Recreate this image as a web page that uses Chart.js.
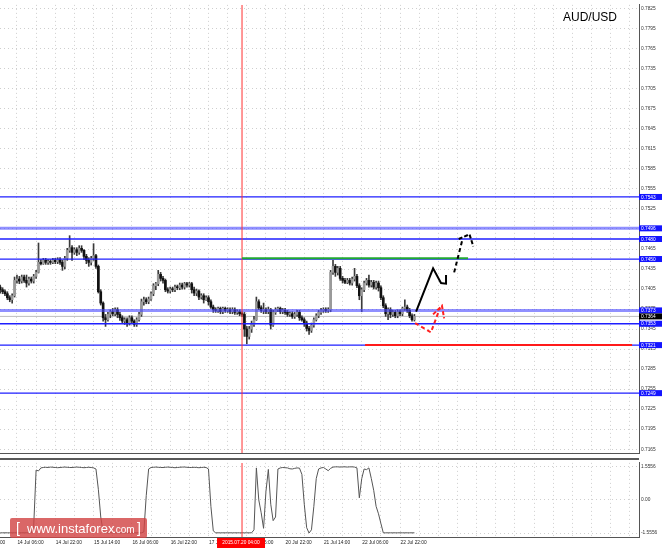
<!DOCTYPE html>
<html>
<head>
<meta charset="utf-8">
<script src="https://cdn.jsdelivr.net/npm/chart.js@4.4.1/dist/chart.umd.min.js"></script>
<style>
  html, body { margin: 0; padding: 0; background: #fff; }
  #wrap { position: relative; width: 664px; height: 549px; overflow: hidden; }
  #main { position: absolute; left: 0; top: 0; }
  #osc { position: absolute; left: 0; top: 458px; }
</style>
</head>
<body>
<div id="wrap">
  <canvas id="main" width="664" height="458"></canvas>
  <canvas id="osc" width="664" height="91"></canvas>
</div>
<script>
// AUD/USD H1, bar 0 = 13 Jul 23:00
const open = [
  0.7408,0.7404,0.7401,0.7398,0.7392,0.7389,0.7395,0.7418,0.7420,0.7417,
  0.7423,0.7418,0.7414,0.7420,0.7417,0.7424,0.7430,0.7445,0.7443,0.7448,
  0.7445,0.7446,0.7445,0.7448,0.7446,0.7449,0.7445,0.7439,0.7451,0.7463,
  0.7467,0.7460,0.7464,0.7460,0.7466,0.7463,0.7454,0.7448,0.7445,0.7451,
  0.7455,0.7439,0.7401,0.7384,0.7362,0.7359,0.7367,0.7371,0.7368,0.7374,
  0.7367,0.7362,0.7357,0.7359,0.7354,0.7362,0.7357,0.7352,0.7359,0.7367,
  0.7386,0.7389,0.7386,0.7390,0.7398,0.7410,0.7413,0.7427,0.7421,0.7418,
  0.7404,0.7402,0.7405,0.7404,0.7408,0.7407,0.7411,0.7408,0.7413,0.7411,
  0.7413,0.7404,0.7399,0.7402,0.7393,0.7395,0.7389,0.7392,0.7386,0.7378,
  0.7374,0.7373,0.7376,0.7371,0.7376,0.7373,0.7374,0.7371,0.7374,0.7370,
  0.7371,0.7368,0.7367,0.7345,0.7334,0.7345,0.7352,0.7359,0.7386,0.7377,
  0.7373,0.7374,0.7371,0.7374,0.7351,0.7370,0.7374,0.7376,0.7371,0.7373,
  0.7370,0.7367,0.7368,0.7364,0.7367,0.7370,0.7362,0.7359,0.7354,0.7346,
  0.7343,0.7351,0.7359,0.7365,0.7370,0.7373,0.7374,0.7373,0.7374,0.7430,
  0.7439,0.7430,0.7436,0.7421,0.7418,0.7415,0.7418,0.7414,0.7420,0.7424,
  0.7410,0.7395,0.7404,0.7414,0.7418,0.7411,0.7415,0.7408,0.7414,0.7407,
  0.7392,0.7380,0.7368,0.7374,0.7367,0.7370,0.7365,0.7371,0.7368,0.7376,
  0.7378,0.7373,0.7365,0.7359
];
const high = [
  0.7411,0.7407,0.7404,0.7401,0.7395,0.7398,0.7423,0.7426,0.7424,0.7426,
  0.7426,0.7426,0.7423,0.7423,0.7427,0.7433,0.7474,0.7449,0.7451,0.7451,
  0.7449,0.7449,0.7451,0.7451,0.7452,0.7452,0.7448,0.7454,0.7466,0.7485,
  0.7470,0.7467,0.7467,0.7470,0.7470,0.7464,0.7457,0.7452,0.7454,0.7473,
  0.7457,0.7441,0.7404,0.7386,0.7367,0.7370,0.7374,0.7376,0.7377,0.7377,
  0.7370,0.7365,0.7362,0.7362,0.7365,0.7365,0.7359,0.7362,0.7370,0.7390,
  0.7393,0.7392,0.7393,0.7401,0.7413,0.7415,0.7433,0.7430,0.7424,0.7420,
  0.7407,0.7408,0.7408,0.7411,0.7411,0.7414,0.7414,0.7415,0.7415,0.7415,
  0.7415,0.7408,0.7405,0.7404,0.7398,0.7398,0.7395,0.7395,0.7389,0.7381,
  0.7377,0.7378,0.7378,0.7378,0.7378,0.7377,0.7377,0.7377,0.7377,0.7374,
  0.7374,0.7371,0.7370,0.7349,0.7349,0.7357,0.7364,0.7393,0.7389,0.7380,
  0.7384,0.7377,0.7378,0.7376,0.7373,0.7377,0.7378,0.7378,0.7376,0.7376,
  0.7373,0.7371,0.7371,0.7370,0.7373,0.7373,0.7365,0.7362,0.7357,0.7349,
  0.7354,0.7362,0.7368,0.7373,0.7376,0.7377,0.7377,0.7377,0.7433,0.7448,
  0.7442,0.7439,0.7439,0.7424,0.7421,0.7421,0.7421,0.7423,0.7436,0.7427,
  0.7413,0.7407,0.7417,0.7421,0.7426,0.7418,0.7418,0.7417,0.7417,0.7410,
  0.7395,0.7383,0.7377,0.7377,0.7373,0.7373,0.7374,0.7374,0.7378,0.7389,
  0.7381,0.7376,0.7368,0.7367
];
const low = [
  0.7399,0.7398,0.7395,0.7389,0.7386,0.7384,0.7393,0.7414,0.7413,0.7414,
  0.7415,0.7408,0.7411,0.7414,0.7414,0.7421,0.7429,0.7441,0.7442,0.7442,
  0.7442,0.7442,0.7443,0.7443,0.7443,0.7442,0.7433,0.7435,0.7448,0.7460,
  0.7448,0.7457,0.7455,0.7457,0.7460,0.7449,0.7443,0.7439,0.7441,0.7448,
  0.7436,0.7399,0.7381,0.7357,0.7349,0.7357,0.7362,0.7365,0.7365,0.7362,
  0.7358,0.7354,0.7352,0.7349,0.7351,0.7354,0.7349,0.7349,0.7357,0.7364,
  0.7381,0.7383,0.7383,0.7388,0.7395,0.7404,0.7410,0.7417,0.7414,0.7401,
  0.7399,0.7399,0.7401,0.7401,0.7404,0.7404,0.7405,0.7405,0.7408,0.7408,
  0.7399,0.7395,0.7395,0.7389,0.7390,0.7384,0.7388,0.7381,0.7376,0.7370,
  0.7370,0.7370,0.7368,0.7368,0.7370,0.7370,0.7368,0.7368,0.7367,0.7367,
  0.7365,0.7364,0.7334,0.7323,0.7330,0.7340,0.7349,0.7358,0.7374,0.7370,
  0.7368,0.7368,0.7368,0.7345,0.7349,0.7367,0.7371,0.7368,0.7368,0.7367,
  0.7364,0.7364,0.7361,0.7361,0.7364,0.7358,0.7357,0.7349,0.7342,0.7337,
  0.7340,0.7348,0.7357,0.7362,0.7367,0.7370,0.7370,0.7370,0.7371,0.7427,
  0.7424,0.7426,0.7418,0.7414,0.7413,0.7413,0.7411,0.7411,0.7417,0.7407,
  0.7389,0.7371,0.7401,0.7411,0.7408,0.7408,0.7405,0.7405,0.7402,0.7389,
  0.7377,0.7364,0.7359,0.7362,0.7364,0.7362,0.7362,0.7365,0.7365,0.7373,
  0.7370,0.7362,0.7357,0.7357
];
const close = [
  0.7404,0.7401,0.7398,0.7392,0.7389,0.7395,0.7418,0.7420,0.7417,0.7423,
  0.7418,0.7414,0.7420,0.7417,0.7424,0.7430,0.7445,0.7443,0.7448,0.7445,
  0.7446,0.7445,0.7448,0.7446,0.7449,0.7445,0.7439,0.7451,0.7463,0.7467,
  0.7460,0.7464,0.7460,0.7466,0.7463,0.7454,0.7448,0.7445,0.7451,0.7455,
  0.7439,0.7401,0.7384,0.7362,0.7359,0.7367,0.7371,0.7368,0.7374,0.7367,
  0.7362,0.7357,0.7359,0.7354,0.7362,0.7357,0.7352,0.7359,0.7367,0.7386,
  0.7389,0.7386,0.7390,0.7398,0.7410,0.7413,0.7427,0.7421,0.7418,0.7404,
  0.7402,0.7405,0.7404,0.7408,0.7407,0.7411,0.7408,0.7413,0.7411,0.7413,
  0.7404,0.7399,0.7402,0.7393,0.7395,0.7389,0.7392,0.7386,0.7378,0.7374,
  0.7373,0.7376,0.7371,0.7376,0.7373,0.7374,0.7371,0.7374,0.7370,0.7371,
  0.7368,0.7367,0.7345,0.7334,0.7345,0.7352,0.7359,0.7386,0.7377,0.7373,
  0.7374,0.7371,0.7374,0.7351,0.7370,0.7374,0.7376,0.7371,0.7373,0.7370,
  0.7367,0.7368,0.7364,0.7367,0.7370,0.7362,0.7359,0.7354,0.7346,0.7343,
  0.7351,0.7359,0.7365,0.7370,0.7373,0.7374,0.7373,0.7374,0.7430,0.7439,
  0.7430,0.7436,0.7421,0.7418,0.7415,0.7418,0.7414,0.7420,0.7424,0.7410,
  0.7395,0.7404,0.7414,0.7418,0.7411,0.7415,0.7408,0.7414,0.7407,0.7392,
  0.7380,0.7368,0.7374,0.7367,0.7370,0.7365,0.7371,0.7368,0.7376,0.7378,
  0.7373,0.7365,0.7359,0.7364
];
// oscillator in the lower window
const osc = [
  -1.54,-1.54,-1.54,-1.54,-1.54,-1.54,-1.54,-1.54,-1.54,-1.54,
  -1.54,-1.54,-1.54,-1.54,-1.20,1.40,1.36,1.50,1.52,1.53,
  1.52,1.54,1.53,1.52,1.51,1.52,1.53,1.54,1.53,1.52,
  1.52,1.53,1.54,1.53,1.52,1.51,1.52,1.53,1.52,1.50,
  1.45,0.50,-0.80,-1.50,-1.54,-1.54,-1.54,-1.54,-1.54,-1.54,
  -1.54,-1.54,-1.54,-1.54,-1.54,-1.54,-1.54,-1.54,-1.54,-1.54,
  -1.50,0.20,1.45,1.52,1.53,1.54,1.53,1.52,1.52,1.53,
  1.54,1.53,1.52,1.51,1.52,1.53,1.54,1.54,1.53,1.52,
  1.52,1.53,1.52,1.51,1.52,1.53,1.52,1.45,-0.30,-1.45,
  -1.54,-1.54,-1.54,-1.54,-1.54,-1.54,-1.54,-1.54,-1.54,-1.54,
  -1.54,-1.54,-1.54,-1.54,-1.54,-1.54,-1.40,1.50,0.00,-0.60,
  -1.33,0.40,1.43,-0.20,-0.97,-0.80,1.45,1.50,1.52,1.51,
  1.50,1.46,1.45,1.48,1.50,1.49,1.20,-0.20,-1.30,-1.55,
  -1.40,-0.30,1.00,1.45,1.50,1.52,1.45,1.37,1.48,1.54,
  1.55,1.55,1.54,1.55,1.55,1.54,1.55,1.55,1.54,1.50,
  0.10,1.00,1.45,1.42,1.50,1.00,0.45,-0.30,-0.65,-1.10,
  -1.54,-1.54,-1.54,-1.54,-1.54,-1.54,-1.54,-1.54,-1.54,-1.54,
  -1.54,-1.54,-1.54,-1.54
];

const priceTicks = [0.7165,0.7195,0.7225,0.7255,0.7285,0.7315,0.7345,0.7375,0.7405,0.7435,0.7465,0.7495,
  0.7525,0.7555,0.7585,0.7615,0.7645,0.7675,0.7705,0.7735,0.7765,0.7795,0.7825];
const oscTicks = [-1.5556, 0, 1.5556];
const timeLabels = ['13 Jul 14:00','14 Jul 06:00','14 Jul 22:00','15 Jul 14:00','16 Jul 06:00','16 Jul 22:00',
  '17 Jul 14:00','20 Jul 06:00','20 Jul 22:00','21 Jul 14:00','22 Jul 06:00','22 Jul 22:00'];
const timeLabelBars = [-9, 7, 23, 39, 55, 71, 87, 103, 119, 135, 151, 167];

// horizontal levels drawn on the chart
const levels = [0.7543, 0.7496, 0.7480, 0.7450, 0.7373, 0.7353, 0.7321, 0.7249];
const bidPrice = 0.7364;
const markerBar = 101;           // 2015.07.20 04:00
const markerText = '2015.07.20 04:00';
const greenBars = [101, 195.4], greenPrices = [0.7451, 0.7451];
const redBars = [152.4, 263.9], redPrices = [0.7321, 0.7321];

// forecast arrows (bar index, price)
const upBars = [173.7, 180.8, 184.1], upPrices = [0.7371, 0.7436, 0.7414];
const upHeadBars = [183.8, 186.2, 186.2], upHeadPrices = [0.7414, 0.7413, 0.7426];
const dashBars = [189.6, 192.9], dashPrices = [0.7430, 0.7477];
const dashHeadBars = [191.5, 196.0, 197.6], dashHeadPrices = [0.7480, 0.7487, 0.7469];
const altBars = [173.3, 179.9, 183.7], altPrices = [0.7354, 0.7340, 0.7377];
const altHeadBars = [180.8, 184.5, 185.4], altHeadPrices = [0.7367, 0.7380, 0.7361];

const X_MIN = -0.08, X_MAX = 266.8;
const FONT = 'Liberation Sans, Arial, sans-serif';
Chart.defaults.font.family = FONT;

const gridBars = [];
for (let b = 7; b < X_MAX; b += 8) gridBars.push(b);

const pts = (xs, ys) => xs.map((x, i) => ({x, y: ys[i]}));
const seg = (data, color, width, dash, order) => ({
  type: 'line', data, borderColor: color, borderWidth: width, borderDash: dash || [],
  pointRadius: 0, tension: 0, fill: false, order
});

const xScale = {
  type: 'linear', min: X_MIN, max: X_MAX, offset: false,
  ticks: { display: false },
  grid: { color: '#cfcfcf', drawTicks: false, offset: false },
  border: { display: true, color: '#555', dash: [1, 3] },
  afterBuildTicks: s => { s.ticks = gridBars.map(v => ({value: v})); },
  afterFit: s => { s.height = 0; }
};

const levelSets = levels.map(l => {
  const thick = (l === 0.7373 || l === 0.7496);
  return seg(pts([X_MIN, X_MAX], [l, l]), thick ? 'rgba(70,70,255,0.6)' : '#1e1eff', thick ? 3 : 1.3, null, 3);
});

const mainDecor = {
  id: 'mainDecor',
  afterDraw(chart) {
    const {ctx, chartArea, scales} = chart;
    const y = scales.y;
    ctx.save();
    ctx.font = '4.8px ' + FONT;
    ctx.textBaseline = 'middle';
    ctx.textAlign = 'left';
    levels.forEach(l => {
      const py = y.getPixelForValue(l);
      ctx.fillStyle = '#1414ff';
      ctx.fillRect(chartArea.right, py - 3, 23, 6);
      ctx.fillStyle = '#fff';
      ctx.fillText(l.toFixed(4), chartArea.right + 2, py + 0.3);
    });
    const by = y.getPixelForValue(bidPrice);
    ctx.fillStyle = '#000';
    ctx.fillRect(chartArea.right, by - 3, 23, 6);
    ctx.fillStyle = '#fff';
    ctx.fillText(bidPrice.toFixed(4), chartArea.right + 2, by + 0.3);

    ctx.font = '12px ' + FONT;
    ctx.fillStyle = '#000';
    ctx.textAlign = 'right';
    ctx.textBaseline = 'alphabetic';
    ctx.fillText('AUD/USD', 617, 21);
    ctx.restore();
  }
};

new Chart(document.getElementById('main'), {
  type: 'bar',
  data: {
    datasets: [
      seg(pts([X_MIN, X_MAX], [bidPrice, bidPrice]), '#bdbdbd', 1, null, 6),
      {
        type: 'bar', grouped: false, order: 5,
        data: high.map((h, i) => ({x: i, y: [low[i], h]})),
        backgroundColor: '#3a3a3a', barThickness: 1
      },
      {
        type: 'bar', grouped: false, order: 4, minBarLength: 1,
        data: close.map((c, i) => ({x: i, y: [open[i], c]})),
        backgroundColor: close.map((c, i) => c >= open[i] ? '#9a9a9a' : '#111'),
        barThickness: 2
      },
      ...levelSets,
      seg(pts(greenBars, greenPrices), '#22a833', 2, null, 2),
      seg(pts(redBars, redPrices), '#ff1a1a', 2, null, 2),
      seg([{x: markerBar, y: 0.70}, {x: markerBar, y: 0.80}], '#ff3030', 1, null, 2),
      seg(pts(upBars, upPrices), '#000', 2, null, 0),
      seg(pts(upHeadBars, upHeadPrices), '#000', 2, null, 0),
      seg(pts(dashBars, dashPrices), '#000', 2, [4, 3], 0),
      seg(pts(dashHeadBars, dashHeadPrices), '#000', 2, [4, 2], 0),
      seg(pts(altBars, altPrices), '#ff2020', 2, [4, 3], 0),
      seg(pts(altHeadBars, altHeadPrices), '#ff2020', 2, [4, 2], 0)
    ]
  },
  options: {
    responsive: false, animation: false, devicePixelRatio: 1,
    layout: { padding: { left: 0, right: 0, top: 0, bottom: 2 } },
    plugins: { legend: { display: false }, tooltip: { enabled: false } },
    scales: {
      x: xScale,
      y: {
        type: 'linear', position: 'right', min: 0.71591, max: 0.78309, beginAtZero: false,
        grid: { color: '#cfcfcf', drawTicks: false },
        border: { display: true, color: '#555', dash: [1, 3] },
        ticks: { autoSkip: false, padding: 2, color: '#333', font: { size: 4.8 },
          callback: v => v.toFixed(4) },
        afterBuildTicks: s => { s.ticks = priceTicks.map(v => ({value: v})); },
        afterFit: s => { s.width = 25; }
      }
    }
  },
  plugins: [mainDecor]
});

const oscDecor = {
  id: 'oscDecor',
  afterDraw(chart) {
    const {ctx, chartArea, scales} = chart;
    const x = scales.x;
    ctx.save();
    ctx.fillStyle = '#5a5a5a';
    ctx.fillRect(0, 0, chartArea.right, 2);

    ctx.font = '4.8px ' + FONT;
    ctx.fillStyle = '#222';
    ctx.textAlign = 'left';
    ctx.textBaseline = 'middle';
    timeLabels.forEach((t, i) => {
      ctx.fillText(t, x.getPixelForValue(timeLabelBars[i]) + 0.5, chartArea.bottom + 6);
    });

    const mx = x.getPixelForValue(markerBar);
    ctx.fillStyle = '#ff0000';
    ctx.fillRect(mx - 25, chartArea.bottom + 1, 48, 10);
    ctx.fillStyle = '#fff';
    ctx.textAlign = 'center';
    ctx.fillText(markerText, mx - 1, chartArea.bottom + 6);

    // watermark
    ctx.fillStyle = 'rgba(210,70,70,0.82)';
    ctx.beginPath();
    ctx.roundRect(10, 60, 137, 20, 2);
    ctx.fill();
    ctx.fillStyle = '#fff';
    ctx.textAlign = 'left';
    ctx.textBaseline = 'alphabetic';
    ctx.font = '14px ' + FONT;
    ctx.fillText('[', 16, 75);
    ctx.font = '13px ' + FONT;
    ctx.fillText('www.instaforex', 27, 75);
    ctx.font = '10px ' + FONT;
    ctx.fillText('.com', 113, 75);
    ctx.font = '14px ' + FONT;
    ctx.fillText(']', 137, 75);
    ctx.restore();
  }
};

new Chart(document.getElementById('osc'), {
  type: 'line',
  data: {
    datasets: [
      seg(osc.map((v, i) => ({x: i, y: v})), '#555', 1, null, 1),
      seg([{x: markerBar, y: -3}, {x: markerBar, y: 3}], '#ff3030', 1, null, 0)
    ]
  },
  options: {
    responsive: false, animation: false, devicePixelRatio: 1,
    layout: { padding: { left: 0, right: 0, top: 2, bottom: 12 } },
    plugins: { legend: { display: false }, tooltip: { enabled: false } },
    scales: {
      x: xScale,
      y: {
        type: 'linear', position: 'right', min: -1.736, max: 1.736,
        grid: { color: '#cfcfcf', drawTicks: false },
        border: { display: true, color: '#555', dash: [1, 3] },
        ticks: { autoSkip: false, padding: 2, color: '#333', font: { size: 4.8 },
          callback: v => v === 0 ? '0.00' : v.toFixed(4) },
        afterBuildTicks: s => { s.ticks = oscTicks.map(v => ({value: v})); },
        afterFit: s => { s.width = 25; }
      }
    }
  },
  plugins: [oscDecor]
});
</script>
</body>
</html>
